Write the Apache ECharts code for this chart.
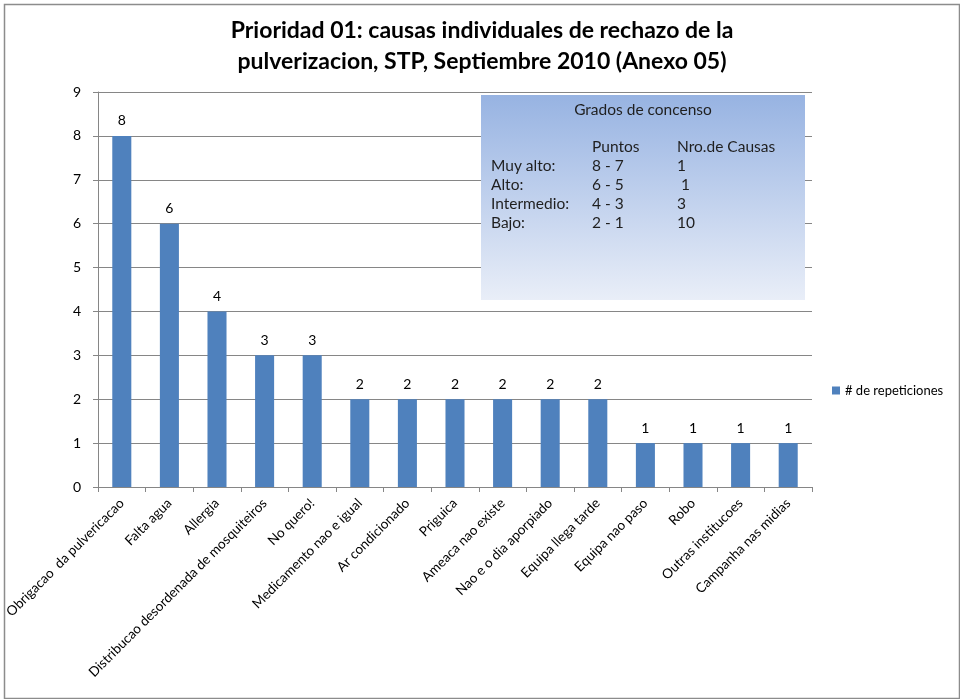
<!DOCTYPE html>
<html>
<head>
<meta charset="utf-8">
<script src="https://cdn.jsdelivr.net/npm/echarts@6/dist/echarts.min.js"></script>
<style>
  html, body { margin: 0; padding: 0; background: #fff; }
  #chart { width: 960px; height: 699px; }
</style>
</head>
<body>
<div id="chart"></div>
<script>
const categories = [
  'Obrigacao  da pulvericacao', 'Falta agua', 'Allergia',
  'Distribucao desordenada de mosquiteiros', 'No quero!',
  'Medicamento nao e igual', 'Ar condicionado', 'Priguica',
  'Ameaca nao existe', 'Nao e o dia aporpiado', 'Equipa llega tarde',
  'Equipa nao paso', 'Robo', 'Outras institucoes', 'Campanha nas midias'
];
const repeticiones = [8, 6, 4, 3, 3, 2, 2, 2, 2, 2, 2, 1, 1, 1, 1];
const yTicks = { min: 0, max: 9, interval: 1 };

// cuadro "Grados de concenso"
const consensoTitle = 'Grados de concenso';
const consensoHeader = ['', 'Puntos', 'Nro.de Causas'];
const consensoRows = [
  ['Muy alto:', '8 - 7', '1'],
  ['Alto:', '6 - 5', ' 1'],
  ['Intermedio:', '4 - 3', '3'],
  ['Bajo:', '2 - 1', '10']
];

const font = 'Lato';
const boxFont = '15.5px Lato';
const colX = [491, 592, 677];

const boxTexts = [{
  type: 'text', x: 643, y: 102, z: 11,
  style: { text: consensoTitle, fill: '#1f1f1f', font: boxFont, textAlign: 'center' }
}];
[consensoHeader, ...consensoRows].forEach((row, r) => {
  row.forEach((cell, c) => {
    if (!cell) return;
    boxTexts.push({
      type: 'text', z: 11,
      x: colX[c], y: 139 + r * 19,
      style: { text: cell, fill: '#1f1f1f', font: boxFont }
    });
  });
});

const chart = echarts.init(document.getElementById('chart'));
chart.setOption({
  animation: false,
  textStyle: { fontFamily: font },
  title: {
    text: 'Prioridad 01: causas individuales de rechazo de la\npulverizacion, STP, Septiembre 2010 (Anexo 05)',
    left: 477, top: 10, textAlign: 'center',
    textStyle: { fontFamily: font, fontWeight: 'bold', fontSize: 23, lineHeight: 31, color: '#000' }
  },
  legend: {
    left: 827, top: 379,
    icon: 'rect', itemWidth: 8, itemHeight: 8, itemGap: 4,
    textStyle: { fontSize: 13, color: '#000', fontFamily: font }
  },
  grid: { left: 98, right: 148, top: 92, bottom: 212 },
  xAxis: {
    type: 'category',
    data: categories,
    axisLine: { lineStyle: { color: '#868686' } },
    axisTick: { show: true, length: 5, lineStyle: { color: '#868686' } },
    axisLabel: { rotate: 45, interval: 0, fontSize: 13.5, color: '#000', margin: 14 }
  },
  yAxis: {
    type: 'value',
    min: yTicks.min, max: yTicks.max, interval: yTicks.interval,
    axisLine: { show: true, lineStyle: { color: '#868686' } },
    axisTick: { show: true, length: 5, lineStyle: { color: '#868686' } },
    axisLabel: { fontSize: 14, color: '#000', margin: 17 },
    splitLine: { lineStyle: { color: '#868686' } }
  },
  series: [{
    name: '# de repeticiones',
    type: 'bar',
    data: repeticiones,
    barWidth: '40%',
    itemStyle: { color: '#4f81bd' },
    label: { show: true, position: 'top', distance: 8, fontSize: 14, color: '#000' }
  }],
  graphic: [
    {
      type: 'rect', left: 2, top: 2, z: -10,
      shape: { width: 955, height: 694 },
      style: { fill: 'none', stroke: '#8c8c8c', lineWidth: 1.5 }
    },
    {
      type: 'rect', x: 481, y: 95, z: 10,
      shape: { width: 324, height: 205 },
      style: {
        fill: new echarts.graphic.LinearGradient(0, 0, 0, 1, [
          { offset: 0, color: '#97b3e2' },
          { offset: 1, color: '#e9eef8' }
        ])
      }
    },
    ...boxTexts
  ]
});
</script>
</body>
</html>
